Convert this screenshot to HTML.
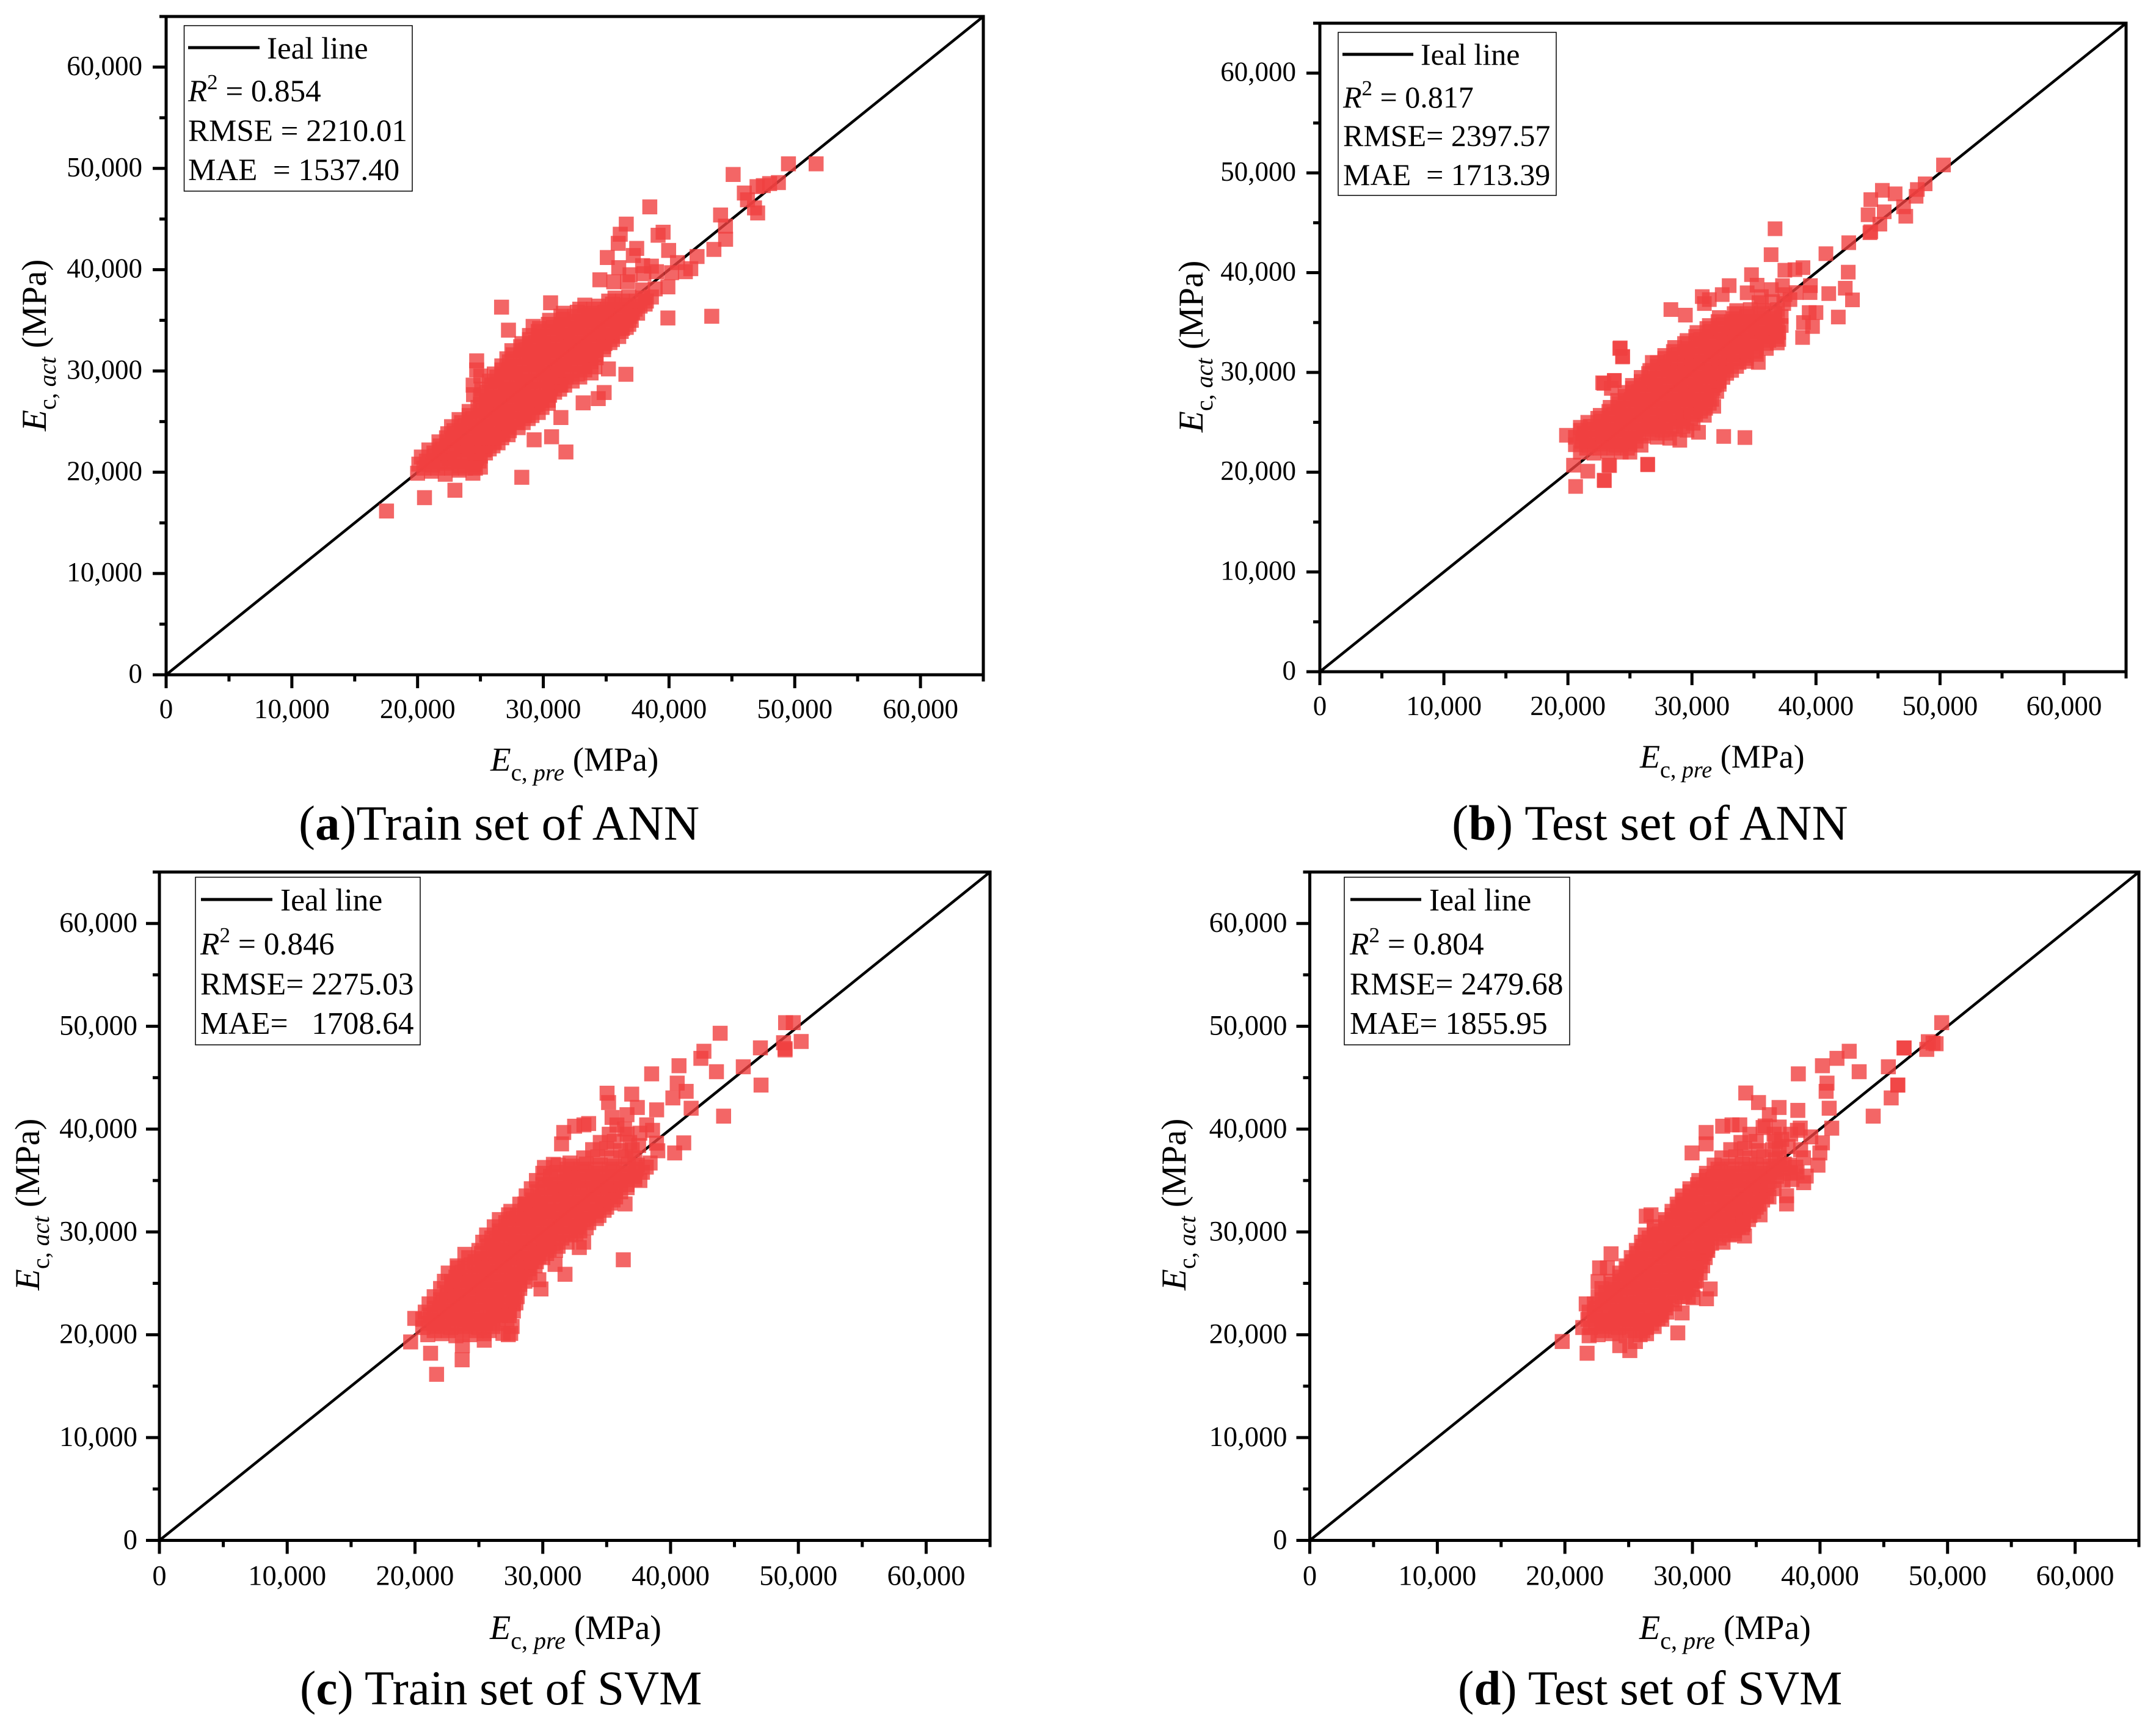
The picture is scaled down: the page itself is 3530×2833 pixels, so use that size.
<!DOCTYPE html>
<html lang="en">
<head>
<meta charset="utf-8">
<title>Predicted vs actual elastic modulus scatter panels</title>
<style>
html,body{margin:0;padding:0;background:#fff;}
svg{display:block;}
text{font-family:"Liberation Serif","Times New Roman",serif;fill:#000;white-space:pre;}
.tick{font-size:45px;}
.tick-lg{font-size:46.5px;}
.legend{font-size:51px;}
.legend-lg{font-size:51.5px;}
.title{font-size:55px;}
.title-lg{font-size:56px;}
.ytitle{font-size:57px;}
.box{fill:none;stroke:#000;stroke-width:1.5;}
.legend-line{stroke:#000;stroke-width:5;}
</style>
</head>
<body>
<svg xmlns="http://www.w3.org/2000/svg" width="3530" height="2833" viewBox="0 0 3530 2833">
<rect x="0" y="0" width="3530" height="2833" fill="#fff"/>

<g id="panel-a">
  <g id="plot-a"></g>
  <g>
    <rect class="box" x="301.5" y="42" width="373.5" height="271" fill="#fff"/>
    <line class="legend-line" x1="308" y1="78" x2="425" y2="78"/>
    <text class="legend" x="437" y="96">Ieal line</text>
    <text class="legend" x="308" y="166"><tspan font-style="italic">R</tspan><tspan font-size="35" dy="-20">2</tspan><tspan dy="20"> = 0.854</tspan></text>
    <text class="legend" x="308" y="231">RMSE = 2210.01</text>
    <text class="legend" x="308" y="295">MAE  = 1537.40</text>
  </g>
  <text class="title" x="803" y="1262"><tspan font-style="italic">E</tspan><tspan font-size="39" dy="16">c, </tspan><tspan font-size="39" font-style="italic">pre</tspan><tspan dy="-16"> (MPa)</tspan></text>
  <text class="ytitle" transform="translate(75 706) rotate(-90)"><tspan font-style="italic">E</tspan><tspan font-size="40" dy="16">c, </tspan><tspan font-size="40" font-style="italic">act</tspan><tspan dy="-16"> (MPa)</tspan></text>
  <text font-size="81" x="489" y="1375">(<tspan font-weight="bold">a</tspan>)Train set of ANN</text>
</g>

<g id="panel-b">
  <g id="plot-b"></g>
  <g>
    <rect class="box" x="2191" y="53" width="357" height="267" fill="#fff"/>
    <line class="legend-line" x1="2198" y1="89" x2="2314" y2="89"/>
    <text class="legend" x="2326" y="106" font-size="50" style="font-size:50px">Ieal line</text>
    <text class="legend" x="2199" y="176" style="font-size:50px"><tspan font-style="italic">R</tspan><tspan font-size="35" dy="-20">2</tspan><tspan dy="20"> = 0.817</tspan></text>
    <text class="legend" x="2199" y="239" style="font-size:50px">RMSE= 2397.57</text>
    <text class="legend" x="2199" y="303" style="font-size:50px">MAE  = 1713.39</text>
  </g>
  <text class="title" x="2685" y="1257" style="font-size:54px"><tspan font-style="italic">E</tspan><tspan font-size="38" dy="16">c, </tspan><tspan font-size="38" font-style="italic">pre</tspan><tspan dy="-16"> (MPa)</tspan></text>
  <text class="ytitle" transform="translate(1969 708) rotate(-90)"><tspan font-style="italic">E</tspan><tspan font-size="40" dy="16">c, </tspan><tspan font-size="40" font-style="italic">act</tspan><tspan dy="-16"> (MPa)</tspan></text>
  <text font-size="82" x="2377" y="1375">(<tspan font-weight="bold">b</tspan>) Test set of ANN</text>
</g>

<g id="panel-c">
  <g id="plot-c"></g>
  <g>
    <rect class="box" x="320" y="1436.5" width="368" height="274.5" fill="#fff"/>
    <line class="legend-line" x1="329" y1="1473" x2="446" y2="1473"/>
    <text class="legend-lg" x="459" y="1491">Ieal line</text>
    <text class="legend-lg" x="328" y="1563"><tspan font-style="italic">R</tspan><tspan font-size="35" dy="-20">2</tspan><tspan dy="20"> = 0.846</tspan></text>
    <text class="legend-lg" x="328" y="1628.5">RMSE= 2275.03</text>
    <text class="legend-lg" x="328" y="1693">MAE=   1708.64</text>
  </g>
  <text class="title-lg" x="802" y="2684"><tspan font-style="italic">E</tspan><tspan font-size="40" dy="16">c, </tspan><tspan font-size="40" font-style="italic">pre</tspan><tspan dy="-16"> (MPa)</tspan></text>
  <text class="ytitle" transform="translate(64 2113) rotate(-90)"><tspan font-style="italic">E</tspan><tspan font-size="40" dy="16">c, </tspan><tspan font-size="40" font-style="italic">act</tspan><tspan dy="-16"> (MPa)</tspan></text>
  <text font-size="79" x="491" y="2791">(<tspan font-weight="bold">c</tspan>) Train set of SVM</text>
</g>

<g id="panel-d">
  <g id="plot-d"></g>
  <g>
    <rect class="box" x="2201" y="1436.5" width="369" height="274.5" fill="#fff"/>
    <line class="legend-line" x1="2211" y1="1473" x2="2327" y2="1473"/>
    <text class="legend-lg" x="2340" y="1491">Ieal line</text>
    <text class="legend-lg" x="2210" y="1563"><tspan font-style="italic">R</tspan><tspan font-size="35" dy="-20">2</tspan><tspan dy="20"> = 0.804</tspan></text>
    <text class="legend-lg" x="2210" y="1628.5">RMSE= 2479.68</text>
    <text class="legend-lg" x="2210" y="1693">MAE= 1855.95</text>
  </g>
  <text class="title-lg" x="2684" y="2684"><tspan font-style="italic">E</tspan><tspan font-size="40" dy="16">c, </tspan><tspan font-size="40" font-style="italic">pre</tspan><tspan dy="-16"> (MPa)</tspan></text>
  <text class="ytitle" transform="translate(1941 2113) rotate(-90)"><tspan font-style="italic">E</tspan><tspan font-size="40" dy="16">c, </tspan><tspan font-size="40" font-style="italic">act</tspan><tspan dy="-16"> (MPa)</tspan></text>
  <text font-size="79" x="2387" y="2791">(<tspan font-weight="bold">d</tspan>) Test set of SVM</text>
</g>
</svg>

<script>
const majorTicks = [0,10000,20000,30000,40000,50000,60000];
const minorTicks = [5000,15000,25000,35000,45000,55000,65000];
const tickLabels = ["0","10,000","20,000","30,000","40,000","50,000","60,000"];
const axisMax = 65000;
const idealLine = [0,65000];

const trainAnnPoints = [
[20000,19900],[21100,20100],[22200,19800],[23300,20200],[24400,19900],
[20100,20800],[21200,20700],[22300,20900],[23400,20600],[24500,20800],[25000,20500],
[20300,21500],[21400,21600],[22500,21400],[23600,21600],[24700,21400],[25000,21600],
[20900,22200],[22000,22300],[23100,22200],[24200,22300],[25300,22200],[25700,22300],
[21700,23000],[22800,23100],[23900,22900],[25000,23100],[26100,23000],[26400,22900],
[22400,23800],[23500,23700],[24600,23800],[25700,23700],[26800,23800],[27200,23700],
[22700,24500],[23800,24600],[24900,24400],[26000,24500],[27100,24600],[28000,24400],
[23300,25200],[24400,25300],[25500,25200],[26600,25300],[27700,25200],[28800,25300],
[24100,26000],[25200,26100],[26300,25900],[27400,26000],[28500,26100],[29600,25900],
[25000,26700],[26100,26800],[27200,26700],[28300,26800],[29400,26700],[30400,26800],
[25000,27500],[26100,27400],[27200,27600],[28300,27500],[29400,27400],[30500,27600],
[25100,28200],[26200,28300],[27300,28200],[28400,28300],[29500,28200],[30600,28300],[31300,28200],
[25700,29000],[26800,29100],[27900,28900],[29000,29000],[30100,29100],[31200,28900],[32300,29000],
[26100,29700],[27200,29800],[28300,29700],[29400,29800],[30500,29700],[31600,29800],[32700,29700],[33800,29800],
[26700,30500],[27800,30400],[28900,30600],[30000,30500],[31100,30400],[32200,30600],[33300,30500],[34100,30400],
[27100,31200],[28200,31300],[29300,31200],[30400,31300],[31500,31200],[32600,31300],[33700,31200],[34200,31300],
[27500,32000],[28600,32100],[29700,31900],[30800,32000],[31900,32100],[33000,31900],[34100,32000],[34800,32100],
[28300,32700],[29400,32800],[30500,32700],[31600,32800],[32700,32700],[33800,32800],[34900,32700],[35300,32800],
[28900,33500],[30000,33400],[31100,33600],[32200,33500],[33300,33400],[34400,33600],[35500,33500],[36000,33400],
[29700,34200],[30800,34300],[31900,34200],[33000,34300],[34100,34200],[35200,34300],[36300,34200],[36600,34300],
[30500,35000],[31600,35100],[32700,34900],[33800,35000],[34900,35100],[36000,34900],[37000,35000],
[31600,35700],[32700,35800],[33800,35700],[34900,35800],[36000,35700],[37100,35800],[37500,35700],
[33300,36500],[34400,36400],[35500,36600],[36600,36500],[37700,36400],[38100,36600],
[35700,37200],[36800,37300],[37900,37200],[38600,37300],[37900,38000],[38900,38100],
[20500,20400],[21600,20400],[22700,20400],[23800,20400],[24600,20400],
[20700,21100],[21800,21100],[22900,21100],[24000,21100],[24900,21100],
[21300,21900],[22400,21900],[23500,21900],[24600,21900],[25400,21900],
[21800,22600],[22900,22600],[24000,22600],[25100,22600],[26000,22600],
[22300,23400],[23400,23400],[24500,23400],[25600,23400],[26700,23400],
[22900,24100],[24000,24100],[25100,24100],[26200,24100],[27300,24100],
[23500,24900],[24600,24900],[25700,24900],[26800,24900],[27900,24900],[28400,24900],
[24100,25600],[25200,25600],[26300,25600],[27400,25600],[28500,25600],[29100,25600],
[24800,26400],[25900,26400],[27000,26400],[28100,26400],[29200,26400],[29900,26400],
[25500,27100],[26600,27100],[27700,27100],[28800,27100],[29900,27100],[30400,27100],
[25500,27900],[26600,27900],[27700,27900],[28800,27900],[29900,27900],[30900,27900],
[25900,28600],[27000,28600],[28100,28600],[29200,28600],[30300,28600],[31400,28600],[31700,28600],
[26300,29400],[27400,29400],[28500,29400],[29600,29400],[30700,29400],[31800,29400],[32900,29400],
[26700,30100],[27800,30100],[28900,30100],[30000,30100],[31100,30100],[32200,30100],[33300,30100],
[27300,30900],[28400,30900],[29500,30900],[30600,30900],[31700,30900],[32800,30900],[33800,30900],
[27600,31600],[28700,31600],[29800,31600],[30900,31600],[32000,31600],[33100,31600],[34200,31600],
[28200,32400],[29300,32400],[30400,32400],[31500,32400],[32600,32400],[33700,32400],[34800,32400],
[28900,33100],[30000,33100],[31100,33100],[32200,33100],[33300,33100],[34400,33100],[35500,33100],
[29600,33900],[30700,33900],[31800,33900],[32900,33900],[34000,33900],[35100,33900],[36200,33900],
[30400,34600],[31500,34600],[32600,34600],[33700,34600],[34800,34600],[35900,34600],[36800,34600],
[31400,35400],[32500,35400],[33600,35400],[34700,35400],[35800,35400],[36900,35400],
[32900,36100],[34000,36100],[35100,36100],[36200,36100],[37300,36100],
[35200,36900],[36300,36900],[37400,36900],[38200,36900],
[17530,16170],[20550,17490],[22970,18220],[28290,19500],[31800,22000],[30660,23500],[29270,23200],[31400,25400],
[33170,26850],[34370,27270],[34840,27870],[36570,29670],[35180,30200],[26680,36300],[30580,36730],[27230,34030],
[29190,34400],[24700,31000],[24700,30100],[25030,29500],[24420,28600],[24450,27660],[39910,35230],[43400,35400],
[39910,38300],[38470,46200],[36600,44500],[36120,43500],[35960,42600],[37430,42100],[39970,41900],[39130,43400],
[39530,43700],[35090,41200],[37160,41400],[38600,40350],[40670,40700],[42230,41300],[43570,42000],[44500,43000],
[44490,44300],[44100,45400],[47050,45600],[46800,46100],[46240,46900],[45990,47570],[47000,48200],[47500,48300],
[48000,48500],[48700,48600],[45100,49400],[49500,50450],[51700,50450],[41730,40100],[41300,39800],[40200,39700],
[36000,40200],[36900,39500],[38000,39600],[34500,39000],[35600,38800],[36700,38800],[37900,40400],[39000,39800]
];

const testAnnPoints = [
[21000,22000],[22100,21900],[23200,22100],[24300,22000],[25000,22000],
[20600,22750],[21700,22700],[22800,22800],[23900,22700],[25000,22800],[25900,22700],
[20600,23500],[21700,23400],[22800,23600],[23900,23500],[25000,23400],[26100,23600],[27200,23500],[28200,23400],
[21000,24200],[22100,24300],[23200,24200],[24300,24300],[25400,24200],[26500,24300],[27600,24200],[28700,24300],[29600,24200],
[21600,25000],[22700,25100],[23800,24900],[24900,25000],[26000,25100],[27100,24900],[28200,25000],[29300,25100],[30100,24900],
[22600,25700],[23700,25800],[24800,25700],[25900,25800],[27000,25700],[28100,25800],[29200,25700],[30300,25800],[31000,25700],
[23400,26500],[24500,26400],[25600,26600],[26700,26500],[27800,26400],[28900,26600],[30000,26500],[31100,26400],
[24000,27200],[25100,27300],[26200,27200],[27300,27300],[28400,27200],[29500,27300],[30600,27200],[31600,27300],
[24600,28000],[25700,28100],[26800,27900],[27900,28000],[29000,28100],[30100,27900],[31200,28000],[32000,28100],
[25200,28700],[26300,28800],[27400,28700],[28500,28800],[29600,28700],[30700,28800],[31800,28700],[32200,28800],
[25900,29500],[27000,29400],[28100,29600],[29200,29500],[30300,29400],[31400,29600],[32500,29500],
[26600,30200],[27700,30300],[28800,30200],[29900,30300],[31000,30200],[32100,30300],[33200,30200],
[27200,31000],[28300,31100],[29400,30900],[30500,31000],[31600,31100],[32700,30900],[33800,31000],[34400,31100],
[27800,31700],[28900,31800],[30000,31700],[31100,31800],[32200,31700],[33300,31800],[34400,31700],[35200,31800],
[28600,32500],[29700,32400],[30800,32600],[31900,32500],[33000,32400],[34100,32600],[35200,32500],[36000,32400],
[29600,33200],[30700,33300],[31800,33200],[32900,33300],[34000,33200],[35100,33300],[36200,33200],[37000,33300],
[30400,34000],[31500,34100],[32600,33900],[33700,34000],[34800,34100],[35900,33900],[37000,34000],
[31400,34700],[32500,34800],[33600,34700],[34700,34800],[35800,34700],[36900,34800],[37200,34700],
[32200,35500],[33300,35400],[34400,35600],[35500,35500],[36600,35400],[37200,35600],
[33600,36200],[34700,36300],[35800,36200],[36900,36300],[35400,37000],[36500,37100],[37400,36900],
[21500,22400],[22600,22400],[23700,22400],[24800,22400],
[21100,23100],[22200,23100],[23300,23100],[24400,23100],[25500,23100],
[21300,23900],[22400,23900],[23500,23900],[24600,23900],[25700,23900],[26800,23900],[27900,23900],
[21800,24600],[22900,24600],[24000,24600],[25100,24600],[26200,24600],[27300,24600],[28400,24600],[29300,24600],
[22400,25400],[23500,25400],[24600,25400],[25700,25400],[26800,25400],[27900,25400],[29000,25400],[29900,25400],
[23300,26100],[24400,26100],[25500,26100],[26600,26100],[27700,26100],[28800,26100],[29900,26100],[30700,26100],
[24100,26900],[25200,26900],[26300,26900],[27400,26900],[28500,26900],[29600,26900],[30700,26900],[31400,26900],
[24600,27600],[25700,27600],[26800,27600],[27900,27600],[29000,27600],[30100,27600],[31200,27600],
[25200,28400],[26300,28400],[27400,28400],[28500,28400],[29600,28400],[30700,28400],[31700,28400],
[25900,29100],[27000,29100],[28100,29100],[29200,29100],[30300,29100],[31400,29100],[32200,29100],
[26500,29900],[27600,29900],[28700,29900],[29800,29900],[30900,29900],[32000,29900],[32800,29900],
[27200,30600],[28300,30600],[29400,30600],[30500,30600],[31600,30600],[32700,30600],[33600,30600],
[27800,31400],[28900,31400],[30000,31400],[31100,31400],[32200,31400],[33300,31400],[34400,31400],
[28500,32100],[29600,32100],[30700,32100],[31800,32100],[32900,32100],[34000,32100],[35100,32100],
[29400,32900],[30500,32900],[31600,32900],[32700,32900],[33800,32900],[34900,32900],[36000,32900],
[30300,33600],[31400,33600],[32500,33600],[33600,33600],[34700,33600],[35800,33600],[36800,33600],
[31200,34400],[32300,34400],[33400,34400],[34500,34400],[35600,34400],[36700,34400],
[32100,35100],[33200,35100],[34300,35100],[35400,35100],[36500,35100],
[33400,35900],[34500,35900],[35600,35900],[36700,35900],
[50280,50790],[48800,48900],[48170,48330],[48070,47650],[45350,48250],[46380,47900],[44420,47320],[47060,46600],
[47240,45650],[44200,45800],[45500,46100],[45150,44860],[44420,44100],[44350,44000],[42640,43000],[40800,41900],
[36700,44400],[36380,41800],[42600,40050],[42360,38440],[42940,37270],[41030,37900],[41800,35550],[40000,36000],
[39450,36000],[38990,35000],[39720,34600],[38920,33500],[38950,40500],[38300,40300],[37490,40240],[39550,38700],
[39520,38000],[34800,39800],[33000,38700],[35250,38740],[34450,37980],[30830,37600],[32440,37800],[28300,36300],
[29470,35740],[24220,32460],[24420,31600],[26800,31000],[23740,29180],[22900,28900],[32560,23580],[34270,23470],
[30530,24000],[29020,23200],[26430,20740],[23360,20660],[22940,19150],[31760,26600],[35350,31000],[36880,32950],
[20620,18570],[22920,19200],[26430,20800],[19880,23700],[21000,24500],[20450,20700],[21600,20100],[23300,20700],
[22800,28960],[23740,29200],[23500,28400],[24180,32400],[24400,31550],[37500,37800],[37300,38700],[38400,38000],
[37900,37300],[36400,38300],[35600,37600],[31000,36900],[31400,37300]
];

const trainSvmPoints = [
[21000,20000],[22100,20100],[23200,19900],[24300,20000],[25400,20100],[27300,20000],
[20600,20700],[21700,20800],[22800,20700],[23900,20800],[25000,20700],[26100,20800],[27600,20800],
[20600,21500],[21700,21400],[22800,21600],[23900,21500],[25000,21400],[26100,21600],[27200,21500],
[20800,22200],[21900,22300],[23000,22200],[24100,22300],[25200,22200],[26300,22300],[27400,22200],[27700,22300],
[21100,23000],[22200,23100],[23300,22900],[24400,23000],[25500,23100],[26600,22900],[27700,23000],[27900,23100],
[21500,23700],[22600,23800],[23700,23700],[24800,23800],[25900,23700],[27000,23800],[28000,23700],
[22000,24500],[23100,24400],[24200,24600],[25300,24500],[26400,24400],[27500,24600],[28200,24500],
[22300,25200],[23400,25300],[24500,25200],[25600,25300],[26700,25200],[27800,25300],[28600,25200],
[22600,26000],[23700,26100],[24800,25900],[25900,26000],[27000,26100],[28100,25900],[29000,26000],
[23300,26700],[24400,26800],[25500,26700],[26600,26800],[27700,26700],[28800,26800],[29400,26700],
[24200,27500],[25300,27400],[26400,27600],[27500,27500],[28600,27400],[29700,27600],[30000,27500],
[25000,28200],[26100,28300],[27200,28200],[28300,28300],[29400,28200],[30500,28300],[31000,28200],
[25300,29000],[26400,29100],[27500,28900],[28600,29000],[29700,29100],[30800,28900],[31900,29000],
[25600,29700],[26700,29800],[27800,29700],[28900,29800],[30000,29700],[31100,29800],[32200,29700],[32600,29800],
[26200,30500],[27300,30400],[28400,30600],[29500,30500],[30600,30400],[31700,30600],[32800,30500],[33400,30400],
[26600,31200],[27700,31300],[28800,31200],[29900,31300],[31000,31200],[32100,31300],[33200,31200],[34200,31300],
[27500,32000],[28600,32100],[29700,31900],[30800,32000],[31900,32100],[33000,31900],[34100,32000],[34800,32100],
[28200,32700],[29300,32800],[30400,32700],[31500,32800],[32600,32700],[33700,32800],[34800,32700],[35300,32800],
[28700,33500],[29800,33400],[30900,33600],[32000,33500],[33100,33400],[34200,33600],[35300,33500],[35700,33400],
[29100,34200],[30200,34300],[31300,34200],[32400,34300],[33500,34200],[34600,34300],[35700,34200],[36600,34300],
[29500,35000],[30600,35100],[31700,34900],[32800,35000],[33900,35100],[35000,34900],[36100,35000],[37200,35100],[37600,35000],
[30000,35700],[31100,35800],[32200,35700],[33300,35800],[34400,35700],[35500,35800],[36600,35700],[37800,35800],
[31200,36500],[32300,36400],[33400,36600],[34500,36500],[35600,36400],[36700,36600],[37400,36500],
[33200,37200],[34300,37300],[35400,37200],[36500,37300],[37200,37200],
[33900,38000],[35000,38100],[36100,37900],[37000,38000],[34500,38700],[35600,38800],[36800,38700],[35200,39500],[36600,39500],
[21500,20400],[22600,20400],[23700,20400],[24800,20400],[25800,20400],
[21100,21100],[22200,21100],[23300,21100],[24400,21100],[25500,21100],[26500,21100],
[21200,21900],[22300,21900],[23400,21900],[24500,21900],[25600,21900],[26700,21900],
[21500,22600],[22600,22600],[23700,22600],[24800,22600],[25900,22600],[27000,22600],
[22000,23400],[23100,23400],[24200,23400],[25300,23400],[26400,23400],[27500,23400],
[22500,24100],[23600,24100],[24700,24100],[25800,24100],[26900,24100],[27800,24100],
[22900,24900],[24000,24900],[25100,24900],[26200,24900],[27300,24900],[28200,24900],
[23200,25600],[24300,25600],[25400,25600],[26500,25600],[27600,25600],[28500,25600],
[23900,26400],[25000,26400],[26100,26400],[27200,26400],[28300,26400],[28900,26400],
[24700,27100],[25800,27100],[26900,27100],[28000,27100],[29100,27100],[29500,27100],
[25200,27900],[26300,27900],[27400,27900],[28500,27900],[29600,27900],[30300,27900],
[25700,28600],[26800,28600],[27900,28600],[29000,28600],[30100,28600],[31200,28600],
[26000,29400],[27100,29400],[28200,29400],[29300,29400],[30400,29400],[31500,29400],
[26600,30100],[27700,30100],[28800,30100],[29900,30100],[31000,30100],[32100,30100],[32900,30100],
[27100,30900],[28200,30900],[29300,30900],[30400,30900],[31500,30900],[32600,30900],[33600,30900],
[28000,31600],[29100,31600],[30200,31600],[31300,31600],[32400,31600],[33500,31600],[34400,31600],
[28700,32400],[29800,32400],[30900,32400],[32000,32400],[33100,32400],[34200,32400],[35000,32400],
[29200,33100],[30300,33100],[31400,33100],[32500,33100],[33600,33100],[34700,33100],[35500,33100],
[29600,33900],[30700,33900],[31800,33900],[32900,33900],[34000,33900],[35100,33900],[36100,33900],
[30000,34600],[31100,34600],[32200,34600],[33300,34600],[34400,34600],[35500,34600],[36600,34600],
[30600,35400],[31700,35400],[32800,35400],[33900,35400],[35000,35400],[36100,35400],[37200,35400],
[31900,36100],[33000,36100],[34100,36100],[35200,36100],[36300,36100],[37300,36100],
[43880,49320],[49000,50350],[49600,50350],[50220,48520],[48840,48400],[48960,47830],[48960,47700],[47030,47900],
[47080,44280],[45690,46060],[43590,45580],[42610,47570],[42370,46880],[40660,46160],[38520,45370],[40520,44470],
[41220,43670],[40180,43030],[41610,42030],[44150,41260],[38910,41870],[37400,42100],[36960,43400],[36590,41400],
[35030,43490],[35150,42580],[35420,41130],[38130,40410],[38590,39880],[38900,38630],[39000,37890],[41030,38660],
[40320,37680],[31640,39670],[31470,38560],[32490,40280],[33220,40410],[33590,40540],[36300,27290],[36440,32720],
[31740,25880],[29860,24450],[30960,26840],[29690,25350],[32860,28480],[33200,29000],[30130,36270],[30830,36570],
[32130,36700],[28600,32720],[27320,31660],[23900,27820],[23350,26500],[22860,25170],[21690,16150],[23690,17560],
[21220,18200],[19660,19300],[19980,21590],[27490,20130],[26880,20130],[25420,19470],[27370,21850],[23710,18940],
[35800,40400],[36400,40000],[37600,39600],[38400,36700],[38100,36300],[37500,38400]
];

const testSvmPoints = [
[22600,20000],[23700,20100],[24800,19900],[25900,20000],[26400,20100],
[22000,20700],[23100,20800],[24200,20700],[25300,20800],[26400,20700],[27000,20800],
[21800,21500],[22900,21400],[24000,21600],[25100,21500],[26200,21400],[27300,21600],[27600,21500],
[21900,22200],[23000,22300],[24100,22200],[25200,22300],[26300,22200],[27400,22300],[28000,22200],
[22300,23000],[23400,23100],[24500,22900],[25600,23000],[26700,23100],[27800,22900],[28600,23000],
[22600,23700],[23700,23800],[24800,23700],[25900,23800],[27000,23700],[28100,23800],[29200,23700],
[22900,24500],[24000,24400],[25100,24600],[26200,24500],[27300,24400],[28400,24600],[29500,24500],[30000,24400],
[23600,25200],[24700,25300],[25800,25200],[26900,25300],[28000,25200],[29100,25300],[30200,25200],[30300,25300],
[24300,26000],[25400,26100],[26500,25900],[27600,26000],[28700,26100],[29800,25900],[30600,26000],
[24800,26700],[25900,26800],[27000,26700],[28100,26800],[29200,26700],[30300,26800],[30800,26700],
[25200,27500],[26300,27400],[27400,27600],[28500,27500],[29600,27400],[30700,27600],[31000,27500],
[25600,28200],[26700,28300],[27800,28200],[28900,28300],[30000,28200],[31100,28300],[31200,28200],
[26000,29000],[27100,29100],[28200,28900],[29300,29000],[30400,29100],[31500,28900],[32400,29000],
[26300,29700],[27400,29800],[28500,29700],[29600,29800],[30700,29700],[31800,29800],[32900,29700],[33300,29800],
[27000,30500],[28100,30400],[29200,30600],[30300,30500],[31400,30400],[32500,30600],[33600,30500],[33900,30400],
[27900,31200],[29000,31300],[30100,31200],[31200,31300],[32300,31200],[33400,31300],[34400,31200],
[28400,32000],[29500,32100],[30600,31900],[31700,32000],[32800,32100],[33900,31900],[34800,32000],
[28800,32700],[29900,32800],[31000,32700],[32100,32800],[33200,32700],[34300,32800],[35200,32700],
[29200,33500],[30300,33400],[31400,33600],[32500,33500],[33600,33400],[34700,33600],[35800,33500],[36000,33400],
[29800,34200],[30900,34300],[32000,34200],[33100,34300],[34200,34200],[35300,34300],[36400,34200],
[30500,35000],[31600,35100],[32700,34900],[33800,35000],[34900,35100],[36000,34900],[37100,35000],[37800,35100],
[31100,35700],[32200,35800],[33300,35700],[34400,35800],[35500,35700],[36600,35800],[37700,35700],[38200,35800],
[31700,36500],[32800,36400],[33900,36600],[35000,36500],[36100,36400],[37200,36600],[37600,36500],
[32300,37200],[33400,37300],[34500,37200],[35600,37300],[36800,37200],
[33000,38000],[34100,38100],[35200,37900],[36300,38000],[36800,38100],[33800,38700],[35000,38800],[36500,38800],
[34500,39500],[36400,39500],
[22900,20400],[24000,20400],[25100,20400],[26100,20400],
[22400,21100],[23500,21100],[24600,21100],[25700,21100],[26800,21100],
[22300,21900],[23400,21900],[24500,21900],[25600,21900],[26700,21900],[27500,21900],
[22400,22600],[23500,22600],[24600,22600],[25700,22600],[26800,22600],[27900,22600],
[22900,23400],[24000,23400],[25100,23400],[26200,23400],[27300,23400],[28400,23400],
[23200,24100],[24300,24100],[25400,24100],[26500,24100],[27600,24100],[28700,24100],[29400,24100],
[23700,24900],[24800,24900],[25900,24900],[27000,24900],[28100,24900],[29200,24900],[29900,24900],
[24300,25600],[25400,25600],[26500,25600],[27600,25600],[28700,25600],[29800,25600],
[24900,26400],[26000,26400],[27100,26400],[28200,26400],[29300,26400],[30300,26400],
[25300,27100],[26400,27100],[27500,27100],[28600,27100],[29700,27100],[30600,27100],
[25700,27900],[26800,27900],[27900,27900],[29000,27900],[30100,27900],[30900,27900],
[26100,28600],[27200,28600],[28300,28600],[29400,28600],[30500,28600],[31200,28600],
[26600,29400],[27700,29400],[28800,29400],[29900,29400],[31000,29400],[32100,29400],
[27000,30100],[28100,30100],[29200,30100],[30300,30100],[31400,30100],[32500,30100],[33300,30100],
[27900,30900],[29000,30900],[30100,30900],[31200,30900],[32300,30900],[33400,30900],[34000,30900],
[28400,31600],[29500,31600],[30600,31600],[31700,31600],[32800,31600],[33900,31600],[34500,31600],
[28900,32400],[30000,32400],[31100,32400],[32200,32400],[33300,32400],[34400,32400],[35000,32400],
[29300,33100],[30400,33100],[31500,33100],[32600,33100],[33700,33100],[34800,33100],[35500,33100],
[29800,33900],[30900,33900],[32000,33900],[33100,33900],[34200,33900],[35300,33900],
[30400,34600],[31500,34600],[32600,34600],[33700,34600],[34800,34600],[35900,34600],
[31100,35400],[32200,35400],[33300,35400],[34400,35400],[35500,35400],[36600,35400],
[32000,36100],[33100,36100],[34200,36100],[35300,36100],[36400,36100],
[49540,50350],[46590,47890],[46590,47890],[46100,44280],[46100,44280],[48370,47750],[48860,48360],[49100,48300],
[48490,48500],[45360,46060],[45580,43030],[44170,41260],[43070,45580],[42290,47570],[41330,46880],[40190,46160],
[38300,45370],[40550,44470],[40480,43670],[40720,42030],[38260,41820],[36790,42100],[34180,43510],[35180,42580],
[36030,41400],[35540,40150],[40920,40090],[39280,39240],[40190,38660],[39990,37680],[39840,36490],[38920,35430],
[38720,34790],[38480,38000],[37380,32720],[37380,33520],[31070,39670],[31070,38560],[29970,37680],[32370,40280],
[33100,40410],[33710,40410],[38230,39880],[38450,40100],[28850,20180],[29190,22120],[31390,24450],[31100,23500],
[29680,23700],[30050,23600],[25090,18460],[21740,18200],[19790,19340],[24300,18940],[25530,19340],[23620,27870],
[22720,26500],[23330,26500],[22600,25170],[21670,23000],[26750,31660],[26380,31530],[34080,29600],[33960,30730],
[35300,31660],[37700,39500],[36800,40200],[35700,40300],[37000,39000],[37500,38300],[38700,37200],[38100,36300],
[36500,37000],[37000,36200],[21400,20700],[21900,19900]
];

const panelData = {
  a:{points:trainAnnPoints,x0:272,x1:1610,y0:1105,y1:27,tickClass:"tick",xBase:71,yGap:39,yBase:13,marker:24.5},
  b:{points:testAnnPoints,x0:2161,x1:3481,y0:1100,y1:38,tickClass:"tick",xBase:71,yGap:39,yBase:13,marker:24},
  c:{points:trainSvmPoints,x0:261,x1:1621,y0:2522.5,y1:1428,tickClass:"tick-lg",xBase:73,yGap:36,yBase:14,marker:24.5},
  d:{points:testSvmPoints,x0:2144.5,x1:3502,y0:2522.5,y1:1428,tickClass:"tick-lg",xBase:73,yGap:37,yBase:14,marker:24.5}
};

const SVGNS = "http://www.w3.org/2000/svg";
function mk(tag, attrs){
  const el = document.createElementNS(SVGNS, tag);
  for(const k in attrs){ el.setAttribute(k, attrs[k]); }
  return el;
}
function drawPanel(key){
  const p = panelData[key];
  const g = document.getElementById("plot-" + key);
  const sx = v => p.x0 + (v / axisMax) * (p.x1 - p.x0);
  const sy = v => p.y0 - (v / axisMax) * (p.y0 - p.y1);

  const ideal = mk("line", {x1:sx(idealLine[0]),y1:sy(idealLine[0]),x2:sx(idealLine[1]),y2:sy(idealLine[1]),stroke:"#000","stroke-width":4.5});
  
  
  g.appendChild(ideal);

  p.points.forEach(function(pt){
    const m = mk("rect", {x:sx(pt[0])-p.marker/2,y:sy(pt[1])-p.marker/2,width:p.marker,height:p.marker,fill:"rgb(240,64,64)","fill-opacity":0.8});
    
    
    g.appendChild(m);
  });

  const spineSegs = [
    [p.x0,p.y0,p.x0,p.y1,'left-axis'],
    [p.x0,p.y0,p.x1,p.y0,'bottom-axis'],
    [p.x0,p.y1,p.x1,p.y1,'top-axis'],
    [p.x1,p.y0,p.x1,p.y1,'right-axis']
  ];
  spineSegs.forEach(function(s){
    const l = mk("line", {x1:s[0],y1:s[1],x2:s[2],y2:s[3],stroke:"#000","stroke-width":5,"stroke-linecap":"square"});
    
    
    g.appendChild(l);
  });

  majorTicks.forEach(function(v,i){
    const tx = mk("line", {x1:sx(v),y1:p.y0,x2:sx(v),y2:p.y0+22,stroke:"#000","stroke-width":5});
    
    
    g.appendChild(tx);
    const ty = mk("line", {x1:p.x0-22,y1:sy(v),x2:p.x0,y2:sy(v),stroke:"#000","stroke-width":5});
    
    
    g.appendChild(ty);
    const lx = mk("text", {x:sx(v),y:p.y0+p.xBase,"text-anchor":"middle","class":p.tickClass});
    
    
    lx.textContent = tickLabels[i];
    g.appendChild(lx);
    const ly = mk("text", {x:p.x0-p.yGap,y:sy(v)+p.yBase,"text-anchor":"end","class":p.tickClass});
    
    
    ly.textContent = tickLabels[i];
    g.appendChild(ly);
  });
  minorTicks.forEach(function(v){
    const tx = mk("line", {x1:sx(v),y1:p.y0,x2:sx(v),y2:p.y0+11,stroke:"#000","stroke-width":5});
    
    
    g.appendChild(tx);
    const ty = mk("line", {x1:p.x0-11,y1:sy(v),x2:p.x0,y2:sy(v),stroke:"#000","stroke-width":5});
    
    
    g.appendChild(ty);
  });
}
["a","b","c","d"].forEach(drawPanel);
</script>
</body>
</html>
